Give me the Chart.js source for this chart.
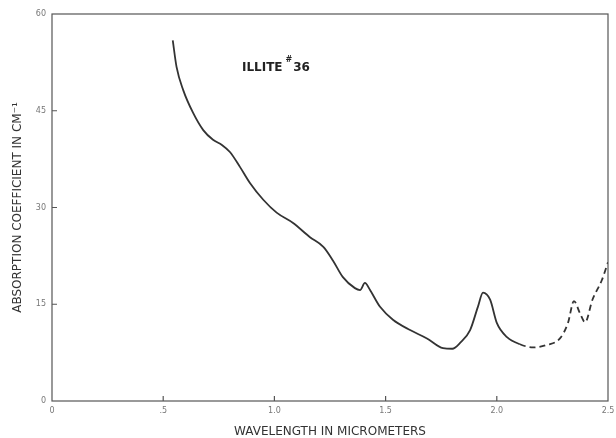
<!DOCTYPE html>
<html>
<head>
<meta charset="utf-8">
<script src="https://cdn.jsdelivr.net/npm/chart.js@4"></script>
<style>
html,body{margin:0;padding:0;background:#fff;}
#wrap{width:616px;height:438px;position:relative;}
</style>
</head>
<body>
<div id="wrap"><canvas id="c" width="616" height="438"></canvas></div>
<script>
const wavelengths = [0.543,0.56,0.59,0.634,0.68,0.724,0.764,0.80,0.845,0.89,0.95,1.01,1.084,1.16,1.22,1.263,1.308,1.362,1.385,1.407,1.43,1.475,1.533,1.61,1.686,1.758,1.8,1.835,1.88,1.915,1.938,1.97,2.0,2.046,2.104,2.163,2.226,2.284,2.32,2.347,2.374,2.397,2.43,2.473,2.5];
const absorption = [55.9,51.8,48.2,44.7,42.0,40.5,39.7,38.6,36.3,33.8,31.2,29.2,27.6,25.4,23.9,21.8,19.2,17.5,17.2,18.3,17.2,14.6,12.6,11.0,9.7,8.2,8.1,9.0,11.0,14.6,16.8,15.7,12.1,9.9,8.8,8.3,8.7,9.7,12.1,15.5,13.6,12.2,15.7,18.8,21.5];
const dashedFrom = 2.104;
const xTickValues = [0,0.5,1.0,1.5,2.0,2.5];
const xTickLabels = ["0",".5","1.0","1.5","2.0","2.5"];
const yTickValues = [0,15,30,45,60];
const yTickLabels = ["0","15","30","45","60"];
const sampleLabel = ["ILLITE", "#", "36"];

const points = wavelengths.map((w,i)=>({x:w,y:absorption[i]}));
const ink = '#333';

const framePlugin = {
  id:'frame',
  afterDraw(chart){
    const {ctx, chartArea:a, scales} = chart;
    ctx.save();
    ctx.strokeStyle = '#555';
    ctx.lineWidth = 1.2;
    ctx.strokeRect(a.left, a.top, a.right-a.left, a.bottom-a.top);
    ctx.beginPath();
    xTickValues.forEach(v=>{
      if (v===0 || v===2.5) return;
      const px = scales.x.getPixelForValue(v);
      ctx.moveTo(px, a.bottom); ctx.lineTo(px, a.bottom-5);
    });
    yTickValues.forEach(v=>{
      if (v===0 || v===60) return;
      const py = scales.y.getPixelForValue(v);
      ctx.moveTo(a.left, py); ctx.lineTo(a.left+5, py);
    });
    ctx.stroke();
    const lx = scales.x.getPixelForValue(0.854);
    const ly = scales.y.getPixelForValue(51.6);
    ctx.fillStyle = '#222';
    ctx.textBaseline = 'middle';
    ctx.textAlign = 'left';
    ctx.font = 'bold 12px "DejaVu Sans"';
    ctx.fillText(sampleLabel[0], lx, ly);
    const w1 = ctx.measureText(sampleLabel[0]).width;
    ctx.font = 'bold 8px "DejaVu Sans"';
    ctx.fillText(sampleLabel[1], lx + w1 + 3, ly - 8);
    const w2 = ctx.measureText(sampleLabel[1]).width;
    ctx.font = 'bold 12px "DejaVu Sans"';
    ctx.fillText(sampleLabel[2], lx + w1 + 3 + w2 + 1, ly);
    ctx.restore();
  }
};

new Chart(document.getElementById('c'), {
  type:'line',
  data:{
    datasets:[{
      data: points,
      borderColor: ink,
      borderWidth: 1.8,
      pointRadius: 0,
      fill: false,
      cubicInterpolationMode: 'monotone',
      segment:{
        borderDash: ctx => ctx.p0.parsed.x >= dashedFrom ? [6,4] : undefined
      }
    }]
  },
  options:{
    responsive:false,
    animation:false,
    devicePixelRatio:1,
    layout:{padding:{left:0,right:8,top:14,bottom:0}},
    plugins:{legend:{display:false},tooltip:{enabled:false}},
    scales:{
      x:{
        type:'linear', min:0, max:2.5,
        afterBuildTicks: s => { s.ticks = xTickValues.map(v=>({value:v})); },
        afterFit: s => { s.height = 37; s.paddingRight = 0; s.paddingLeft = 0; },
        grid:{display:false, drawTicks:false},
        border:{display:false},
        ticks:{
          padding:5,
          color:'#777',
          font:{family:'DejaVu Sans', size:8},
          maxRotation:0,
          callback:(v)=>{ const i = xTickValues.indexOf(v); return i>=0 ? xTickLabels[i] : ''; }
        },
        title:{display:true, text:'WAVELENGTH IN MICROMETERS', color:'#333',
          font:{family:'DejaVu Sans', size:12, lineHeight:1}, padding:{top:0,bottom:0}}
      },
      y:{
        type:'linear', min:0, max:60,
        afterBuildTicks: s => { s.ticks = yTickValues.map(v=>({value:v})); },
        afterFit: s => { s.width = 52; s.paddingTop = 0; s.paddingBottom = 0; },
        grid:{display:false, drawTicks:false},
        border:{display:false},
        ticks:{
          padding:6,
          color:'#777',
          font:{family:'DejaVu Sans', size:8},
          callback:(v)=>{ const i = yTickValues.indexOf(v); return i>=0 ? yTickLabels[i] : ''; }
        },
        title:{display:true, text:'ABSORPTION COEFFICIENT IN CM⁻¹', color:'#333',
          font:{family:'DejaVu Sans', size:12, lineHeight:1}, padding:{top:12,bottom:0}}
      }
    }
  },
  plugins:[framePlugin]
});
</script>
</body>
</html>
